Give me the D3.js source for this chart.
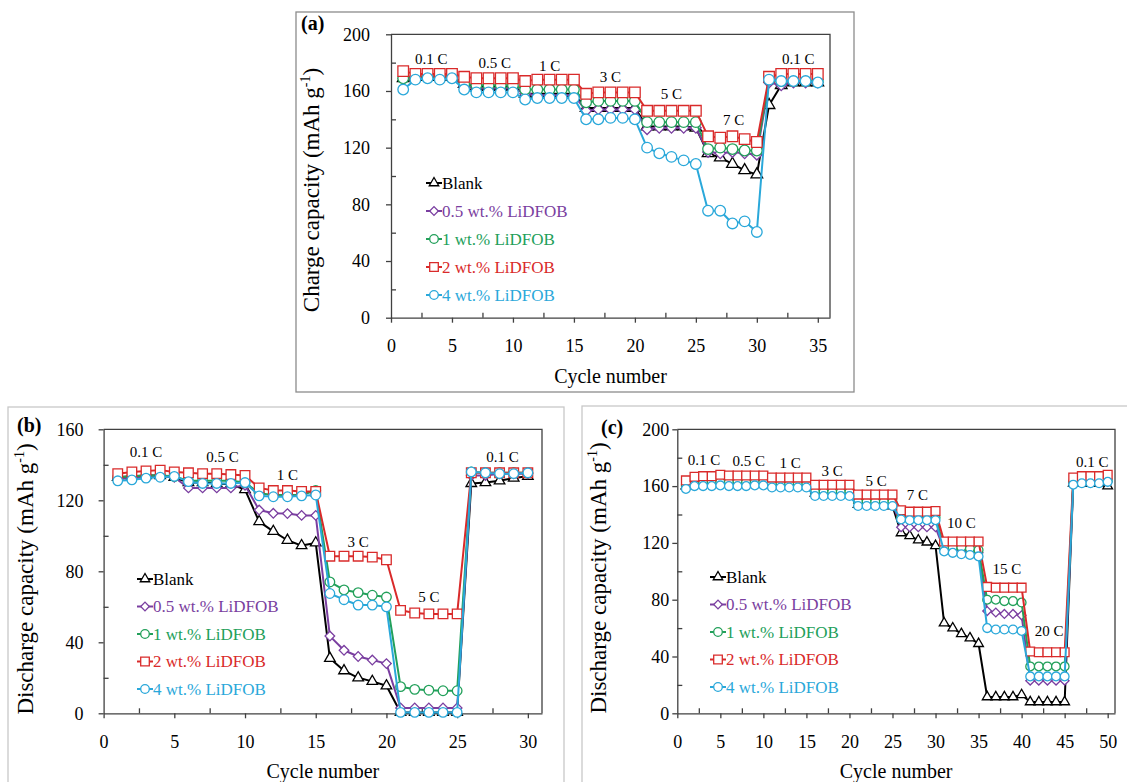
<!DOCTYPE html>
<html>
<head>
  <meta charset="UTF-8">
  <title>LiDFOB rate capability</title>
  <style>
  body { margin:0; background:#fff; }
  svg { display:block; }
  </style>
</head>
<body>
  <svg id="fig" width="1127" height="782" font-family="Liberation Serif, Times New Roman, DejaVu Serif, serif"></svg>
  <script src="https://cdn.jsdelivr.net/npm/d3@7"></script>
  <script>
    // legend entries, same in all three panels
    var seriesNames = ["Blank", "0.5 wt.% LiDFOB", "1 wt.% LiDFOB", "2 wt.% LiDFOB", "4 wt.% LiDFOB"];

    // (a) charge capacity, 35 cycles
    var cyclesA = [1,2,3,4,5,6,7,8,9,10,11,12,13,14,15,16,17,18,19,20,21,22,23,24,25,26,27,28,29,30,31,32,33,34,35];
    var blankA = [169,170,170,170,170, 165,163,163,163,163, 158,158,158,158,158, 148,148,148,148,148,
                  135,135,135,135,134, 116,113,108.5,104,101, 150,164,166,166,166];
    var lidfob05A = [169,170,170,170,170, 163,162,162,162,162, 158,157,157,157,157, 146,147,147,147,147,
                     133,134,134,134,134, 117,116,117,116,115, 166,164,166,166,166];
    var lidfob1A = [169,170,170,170,170, 165,164,164,164,164, 161,161,161,161,161, 152,153,153,153,153,
                    138,138,138,138,138, 119,120,119,118,118, 168,167,167,167,167];
    var lidfob2A = [174,172,172,172,172, 170,169,169,169,169, 167,168,168,168,168, 158,159,159,159,159,
                    146,146,146,146,146, 128,127,128,126,124, 170,172,172,172,172];
    var lidfob4A = [161,168,169,168,169, 161,159,159,159,159, 154,155,155,155,155, 140,140,141,141,140,
                    120,116,113.5,111,108.5, 75.5,75.5,66.5,68,60.5, 168,167,167,167,166];
    var rateTextA = ["0.1 C", "0.5 C", "1 C", "3 C", "5 C", "7 C", "0.1 C"];
    var rateCycleA = [3.3, 8.5, 13, 18, 23, 28.1, 33.4];
    var rateCapA = [183, 180, 178, 170, 158, 139.5, 182.5];
    var xTicksA = [0,5,10,15,20,25,30,35];
    var xMinorA = [2.5,7.5,12.5,17.5,22.5,27.5,32.5];
    var yTicksA = [0,40,80,120,160,200];
    var yMinorA = [20,60,100,140,180];

    // (b) discharge capacity, 30 cycles
    var cyclesB = [1,2,3,4,5,6,7,8,9,10,11,12,13,14,15,16,17,18,19,20,21,22,23,24,25,26,27,28,29,30];
    var blankB = [133,133.5,134,134,133, 130,130,129.5,129,126, 108,102.5,97.5,94.5,96,
                  31,24,20,18,15.5, 0.5,0.5,0.5,0.5,0.5, 129.5,130,131,132.5,133.5];
    var lidfob05B = [132,132.5,133,133.5,133, 127,127,127,127,128.5, 114.5,112.7,112.5,111.5,111.5,
                     43.5,35.5,32,30,28, 3,3,3,3,3, 134,134,135,135,135];
    var lidfob1B = [133,133.5,134,134,133.5, 131,131,131,131,130, 124,123,123,123,125.5,
                    74,69.5,68,66.5,65.5, 15,13.5,13,12.7,12.7, 136,135.5,135.5,135.5,135.5];
    var lidfob2B = [135,136,136.5,137,136, 135.5,135,135,134.5,134, 127,125.5,125.5,125,125,
                    88.5,88.5,88.5,88,86.5, 58,56.5,56,56,56, 135.5,135.5,135.5,135.5,135.5];
    var lidfob4B = [131,131.5,132.5,133,133.5, 130.5,129.5,129.5,129.5,130, 122.5,122,122,122.5,123,
                    67.5,64,61,61,60, 0.5,0.5,0.5,0.5,0.5, 136,135.5,135,135,135.5];
    var rateTextB = ["0.1 C", "0.5 C", "1 C", "3 C", "5 C", "0.1 C"];
    var rateCycleB = [3, 8.4, 13, 18, 23, 28.2];
    var rateCapB = [147.4, 144.6, 134.3, 96.7, 65.7, 144.6];
    var xTicksB = [0,5,10,15,20,25,30];
    var xMinorB = [2.5,7.5,12.5,17.5,22.5,27.5];
    var yTicksB = [0,40,80,120,160];
    var yMinorB = [20,60,100,140];

    // (c) discharge capacity, 50 cycles
    var cyclesC = [1,2,3,4,5,6,7,8,9,10,11,12,13,14,15,16,17,18,19,20,21,22,23,24,25,
                   26,27,28,29,30,31,32,33,34,35,36,37,38,39,40,41,42,43,44,45,46,47,48,49,50];
    var blankC = [160,162,162,162,162, 162,162,162,162,162, 161,161,161,161,161, 155,155,155,155,155,
                  147,147,147,147,146, 127,125,122,120.5,118, 63.5,60,56,53,49,
                  11.5,11.5,11.5,11.5,13, 8,8,8,8,8, 162,162,162,162,160];
    var lidfob05C = [160,162,162,162,162, 162,162,162,162,162, 161,161,161,161,161, 155,155,155,155,155,
                     148,148,148,148,148, 131,131,131,131,131, 115,115,115,114,113,
                     72,71,70,70,69, 23,23,23,23,23, 162,163,163,163,163];
    var lidfob1C = [161,163,163,163,163, 163,163,163,163,163, 162,162,162,162,162, 156,156,156,156,156,
                    149,149,149,149,149, 138,138,138,138,138, 117,117,117,116,115,
                    80,80,79,79,78, 33,33,33,33,33, 163,163,164,164,164];
    var lidfob2C = [164,166.5,167,167,168, 167.5,167.5,167.5,167.5,167.5, 166,166,166,166,166, 161,161,161,161,161,
                    154,154,154,154,154, 143,142,142,142,142.5, 121,121,121,121,121,
                    89,88.5,88.5,88.5,88.5, 43.5,43,43,43,43, 166,167,167,167,168];
    var lidfob4C = [158,160,160,160,160.5, 160,160,160,160.5,160.5, 159,159,159,159,159, 153,153,153,153,153,
                    146,146,146,146,146, 136.5,136,136,136,136, 114,113,112,111.5,110.5,
                    60,59,59,59,58, 26,26,26,26,26, 161,162,162,162,163];
    var rateTextC = ["0.1 C", "0.5 C", "1 C", "3 C", "5 C", "7 C", "10 C", "15 C", "20 C", "0.1 C"];
    var rateCycleC = [3.1, 8.3, 13.1, 18, 23.1, 27.9, 33, 38.3, 43.2, 48.2];
    var rateCapC = [178.9, 177.7, 176.5, 170.9, 163.8, 153.7, 134.5, 102, 58, 177];
    var xTicksC = [0,5,10,15,20,25,30,35,40,45,50];
    var xMinorC = [2.5,7.5,12.5,17.5,22.5,27.5,32.5,37.5,42.5,47.5];
    var yTicksC = [0,40,80,120,160,200];
    var yMinorC = [20,60,100,140,180];

    var colors = ["#000000", "#7a3ea0", "#22a05a", "#d92a2a", "#2aa8da"];
    var shapes = ["triangle", "diamond", "circle", "square", "circle"];
    var serif = "Liberation Serif, Times New Roman, DejaVu Serif, serif";

    var fig = d3.select("#fig");

    function markerPath(shape, r) {
      if (shape == "triangle") return d3.symbol().type(d3.symbolTriangle).size(r * r * 2.1)();
      if (shape == "square") return d3.symbol().type(d3.symbolSquare).size(r * r * 4)();
      if (shape == "diamond") return d3.symbol().type(d3.symbolSquare).size(r * r * 2)();
      return d3.symbol().type(d3.symbolCircle).size(Math.PI * r * r)();
    }

    function drawMarker(g, shape, cx, cy, r, color) {
      g.append("path")
        .attr("d", markerPath(shape, r))
        .attr("transform", "translate(" + cx + "," + cy + ")" + (shape == "diamond" ? " rotate(45)" : ""))
        .attr("fill", "#fff")
        .attr("stroke", color)
        .attr("stroke-width", 1.3);
    }

    function drawPanel(p) {
      var x = d3.scaleLinear().domain([0, p.xMax]).range([p.left, p.right]);
      var y = d3.scaleLinear().domain([0, p.yMax]).range([p.bottom, p.top]);
      var g = fig.append("g").attr("font-family", serif);

      g.append("rect")
        .attr("x", p.box[0]).attr("y", p.box[1])
        .attr("width", p.box[2] - p.box[0]).attr("height", p.box[3] - p.box[1])
        .attr("fill", "none")
        .attr("stroke", p.boxColor)
        .attr("stroke-width", 1.3);

      // top and right edges of the plot area
      g.append("path")
        .attr("d", "M" + p.left + "," + p.top + "H" + p.right + "V" + p.bottom)
        .attr("fill", "none")
        .attr("stroke", "#404040")
        .attr("stroke-width", 1.3);

      // minor ticks point inward
      g.append("g")
          .attr("transform", "translate(0," + p.bottom + ")")
          .call(d3.axisBottom(x).tickValues(p.xMinor).tickSize(-5).tickFormat(""))
          .call(function(a) { a.select(".domain").remove(); });
      g.append("g")
          .attr("transform", "translate(" + p.left + ",0)")
          .call(d3.axisLeft(y).tickValues(p.yMinor).tickSize(-5).tickFormat(""))
          .call(function(a) { a.select(".domain").remove(); });

      var xAxis = g.append("g")
          .attr("transform", "translate(0," + p.bottom + ")")
          .call(d3.axisBottom(x).tickValues(p.xTicks).tickSize(5).tickSizeOuter(0).tickPadding(17));
      var yAxis = g.append("g")
          .attr("transform", "translate(" + p.left + ",0)")
          .call(d3.axisLeft(y).tickValues(p.yTicks).tickSize(5).tickSizeOuter(0).tickPadding(p.yPad));
      [xAxis, yAxis].forEach(function(a) {
        a.attr("font-family", serif).attr("font-size", 18);
        a.selectAll("text").attr("fill", "#000");
      });
      g.selectAll(".tick line, .domain").attr("stroke", "#404040").attr("stroke-width", 1.3);

      g.append("text")
        .attr("x", (p.left + p.right) / 2)
        .attr("y", p.bottom + 65)
        .attr("text-anchor", "middle")
        .attr("font-size", 20)
        .text("Cycle number");

      var yt = g.append("text")
        .attr("transform", "translate(" + p.yTitleX + "," + p.yTitleY + ") rotate(-90)")
        .attr("text-anchor", "middle")
        .attr("font-size", 23);
      yt.append("tspan").text(p.yTitle + " (mAh g");
      yt.append("tspan").attr("dy", -9).attr("font-size", 14).text("-1");
      yt.append("tspan").attr("dy", 9).text(")");

      g.append("text")
        .attr("x", p.tagX)
        .attr("y", p.tagY)
        .attr("font-size", 20)
        .attr("font-weight", "bold")
        .text(p.tag);

      // rate annotations
      p.rateText.forEach(function(t, i) {
        g.append("text")
          .attr("x", x(p.rateCycle[i]))
          .attr("y", y(p.rateCap[i]))
          .attr("dy", "0.35em")
          .attr("text-anchor", "middle")
          .attr("font-size", 15)
          .text(t);
      });

      var line = d3.line()
        .x(function(d, i) { return x(p.cycles[i]); })
        .y(function(d) { return y(d); });

      p.series.forEach(function(s, k) {
        g.append("path")
          .datum(s)
          .attr("fill", "none")
          .attr("stroke", colors[k])
          .attr("stroke-width", 2)
          .attr("stroke-linejoin", "round")
          .attr("d", line);
        s.forEach(function(v, i) {
          drawMarker(g, shapes[k], x(p.cycles[i]), y(v), p.r, colors[k]);
        });
      });

      // legend
      seriesNames.forEach(function(name, k) {
        var ly = p.legY + k * p.legStep;
        g.append("line")
          .attr("x1", p.legX - 8).attr("x2", p.legX + 8)
          .attr("y1", ly).attr("y2", ly)
          .attr("stroke", colors[k])
          .attr("stroke-width", 2);
        drawMarker(g, shapes[k], p.legX, ly, 4.3, colors[k]);
        g.append("text")
          .attr("x", p.legX + 8)
          .attr("y", ly)
          .attr("dy", "0.35em")
          .attr("font-size", 17)
          .attr("fill", colors[k])
          .text(name);
      });
    }

    drawPanel({
      box: [296, 12, 854, 392], boxColor: "#8c8c8c",
      left: 391, right: 830, top: 34.3, bottom: 317.7, xMax: 36, yMax: 200,
      xTicks: xTicksA, xMinor: xMinorA, yTicks: yTicksA, yMinor: yMinorA, yPad: 16,
      yTitle: "Charge capacity", yTitleX: 319, yTitleY: 190,
      tag: "(a)", tagX: 301, tagY: 30,
      cycles: cyclesA, series: [blankA, lidfob05A, lidfob1A, lidfob2A, lidfob4A], r: 5.3,
      rateText: rateTextA, rateCycle: rateCycleA, rateCap: rateCapA,
      legX: 434, legY: 183, legStep: 28
    });

    drawPanel({
      box: [8, 407, 564, 800], boxColor: "#c8c8c8",
      left: 103.6, right: 542, top: 429.3, bottom: 713.3, xMax: 31, yMax: 160,
      xTicks: xTicksB, xMinor: xMinorB, yTicks: yTicksB, yMinor: yMinorB, yPad: 15,
      yTitle: "Discharge capacity", yTitleX: 33, yTitleY: 579,
      tag: "(b)", tagX: 17, tagY: 432,
      cycles: cyclesB, series: [blankB, lidfob05B, lidfob1B, lidfob2B, lidfob4B], r: 4.8,
      rateText: rateTextB, rateCycle: rateCycleB, rateCap: rateCapB,
      legX: 145, legY: 579, legStep: 27.5
    });

    drawPanel({
      box: [582, 406, 1140, 800], boxColor: "#c8c8c8",
      left: 677.3, right: 1115, top: 429.3, bottom: 713.3, xMax: 50.85, yMax: 200,
      xTicks: xTicksC, xMinor: xMinorC, yTicks: yTicksC, yMinor: yMinorC, yPad: 3,
      yTitle: "Discharge capacity", yTitleX: 606, yTitleY: 578,
      tag: "(c)", tagX: 601, tagY: 434,
      cycles: cyclesC, series: [blankC, lidfob05C, lidfob1C, lidfob2C, lidfob4C], r: 4.4,
      rateText: rateTextC, rateCycle: rateCycleC, rateCap: rateCapC,
      legX: 718, legY: 577, legStep: 27.5
    });
  </script>
</body>
</html>
